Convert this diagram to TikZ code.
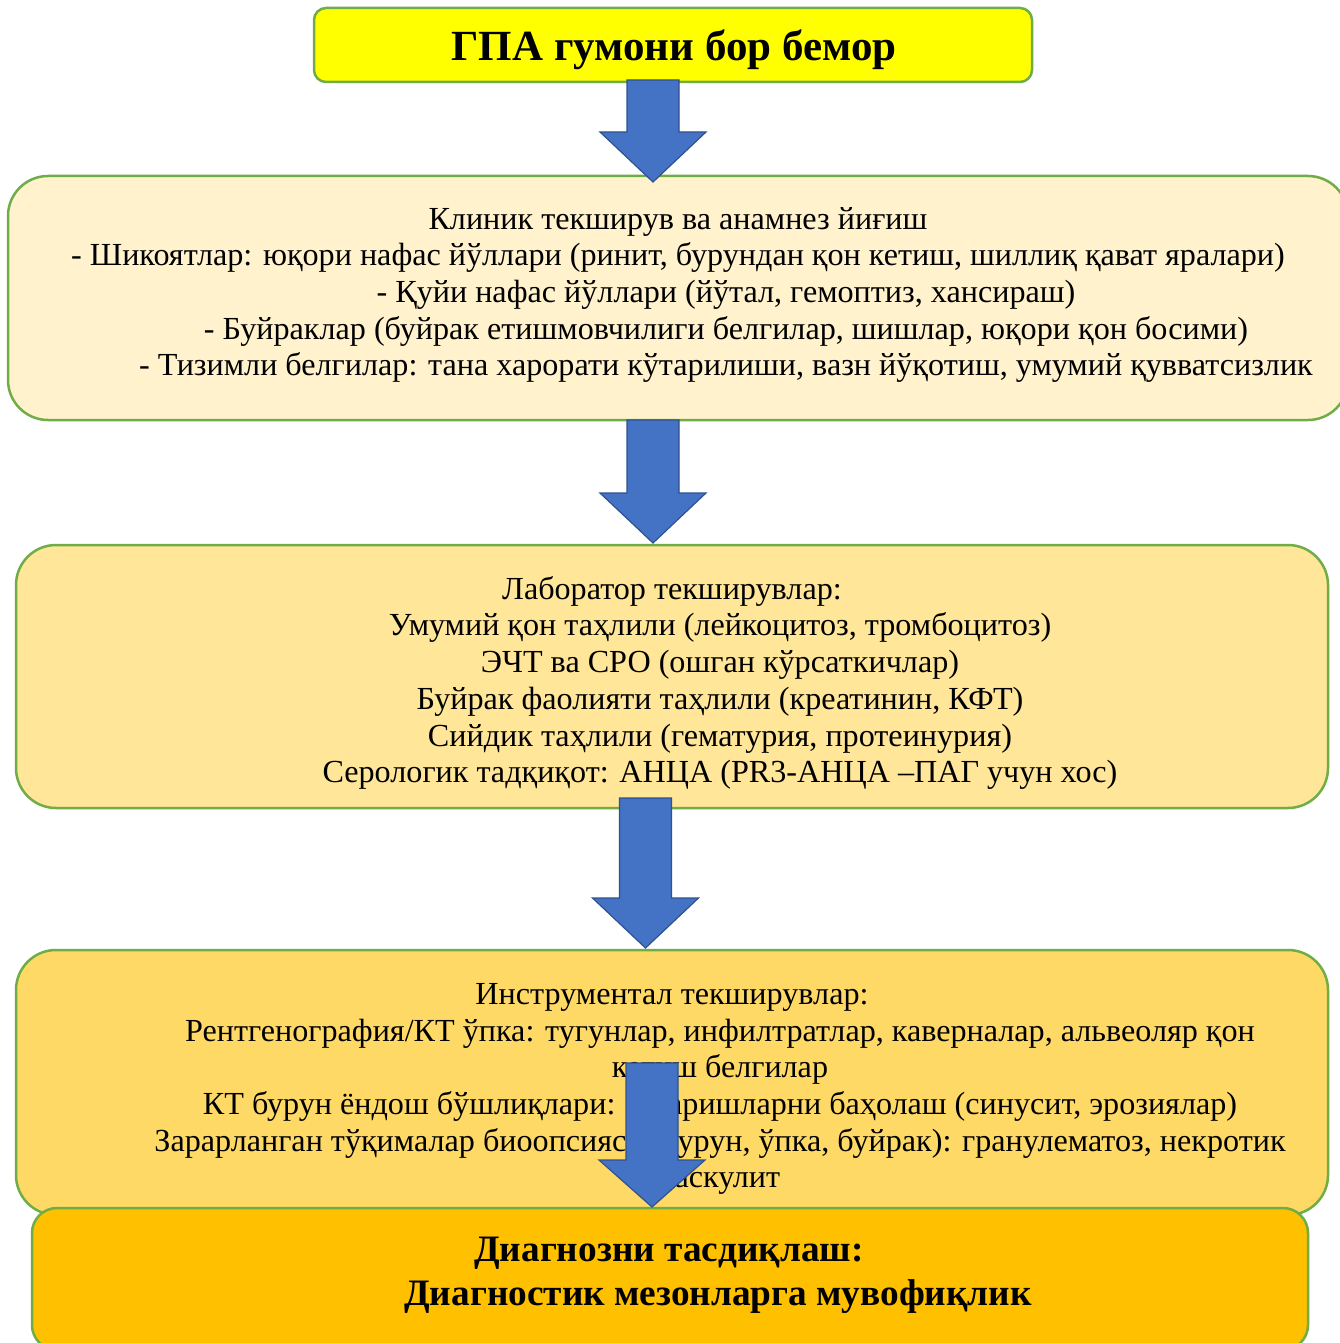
\documentclass[tikz,border=0pt]{standalone}
\usepackage{fontspec}
\setmainfont{Liberation Serif}
\definecolor{grn}{HTML}{70AD47}
\definecolor{blu}{HTML}{4472C4}
\definecolor{bluedge}{HTML}{2F528F}
\definecolor{yel}{HTML}{FFFF00}
\definecolor{c2}{HTML}{FFF2CC}
\definecolor{c3}{HTML}{FFE699}
\definecolor{c4}{HTML}{FFD966}
\definecolor{c5}{HTML}{FFC000}
\newcommand\ind{\hspace*{96pt}}
\newcommand\blockarr[4]{%
  \draw[barrow] (#1-26,#2) -- (#1+26,#2) -- (#1+26,#3) -- (#1+53,#3) -- (#1,#4) -- (#1-53,#3) -- (#1-26,#3) -- cycle;}
\begin{document}
\begin{tikzpicture}[x=1pt,y=-1pt,
  box/.style={draw=grn, line width=2.5pt, rounded corners=40pt, inner sep=0pt, rectangle},
  txt/.style={align=center, inner sep=0pt, font=\fontsize{32.15}{36.7}\selectfont},
  btxt/.style={align=center, inner sep=0pt, font=\fontsize{37.3}{43.5}\selectfont\bfseries},
  barrow/.style={fill=blu, draw=bluedge, line width=1.2pt, line join=miter}]
\clip (0,0) rectangle (1340,1343);
\fill[white] (0,0) rectangle (1340,1343);
% box 1
\node[box, rounded corners=12pt, fill=yel, minimum width=718pt, minimum height=74pt] (b1) at (673,45) {};
\node[align=center, inner sep=0pt, font=\fontsize{43}{50}\selectfont\bfseries] (t1) at (674,50) {ГПА гумони бор бемор};
% box 2
\node[box, fill=c2, minimum width=1340pt, minimum height=244pt] (b2) at (678,298) {};
\node[txt] (t2) at (678,295) {Клиник текширув ва анамнез йиғиш\\
- Шикоятлар: юқори нафас йўллари (ринит, бурундан қон кетиш, шиллиқ қават яралари)\\
\ind- Қуйи нафас йўллари (йўтал, гемоптиз, хансираш)\\
\ind- Буйраклар (буйрак етишмовчилиги белгилар, шишлар, юқори қон босими)\\
\ind- Тизимли белгилар: тана харорати кўтарилиши, вазн йўқотиш, умумий қувватсизлик};
% box 3
\node[box, fill=c3, minimum width=1312pt, minimum height=263pt] (b3) at (672,676.5) {};
\node[txt] (t3) at (672,683) {Лаборатор текширувлар:\\
\ind Умумий қон таҳлили (лейкоцитоз, тромбоцитоз)\\
\ind ЭЧТ ва СРО (ошган кўрсаткичлар)\\
\ind Буйрак фаолияти таҳлили (креатинин, КФТ)\\
\ind Сийдик таҳлили (гематурия, протеинурия)\\
\ind Серологик тадқиқот: АНЦА (PR3-АНЦА –ПАГ учун хос)};
% box 4
\node[box, fill=c4, minimum width=1312pt, minimum height=265pt] (b4) at (672,1082.5) {};
\node[txt] (t4) at (672,1089) {Инструментал текширувлар:\\
\ind Рентгенография/КТ ўпка: тугунлар, инфилтратлар, каверналар, альвеоляр қон\\
\ind кетиш белгилар\\
\ind КТ бурун ёндош бўшлиқлари: ўзгаришларни баҳолаш (синусит, эрозиялар)\\
\ind Зарарланган тўқималар биоопсияси (бурун, ўпка, буйрак): гранулематоз, некротик\\
\ind васкулит};
% box 5
\node[box, rounded corners=25pt, fill=c5, minimum width=1276pt, minimum height=142pt] (b5) at (670,1279) {};
\node[btxt] (t5) at (669,1275.5) {Диагнозни тасдиқлаш:\\
\hspace*{98pt}Диагностик мезонларга мувофиқлик};
% arrows
\blockarr{653}{80}{132}{182}
\blockarr{653}{420}{493}{543}
\blockarr{645.5}{798}{898}{948}
\blockarr{652}{1063}{1160}{1207}
\end{tikzpicture}
\end{document}
